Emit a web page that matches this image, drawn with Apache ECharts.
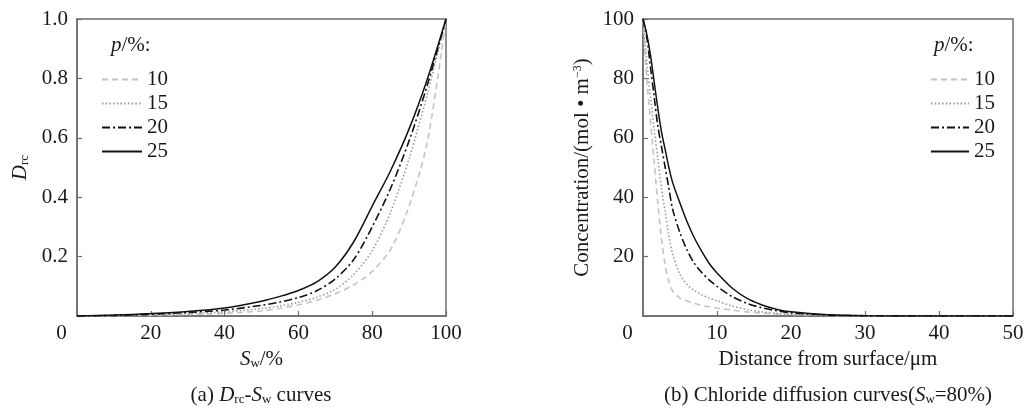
<!DOCTYPE html>
<html><head><meta charset="utf-8">
<script src="https://cdn.jsdelivr.net/npm/echarts@6/dist/echarts.min.js"></script>
<style>html,body{margin:0;padding:0;background:#fff}#c{width:1027px;height:412px}</style>
</head><body><div id="c"></div>
<script>
// ---- data ----
const swX = [0,10,20,30,40,50,55,60,65,70,75,80,85,90,95,100];
const drcP10 = [0,0.001,0.002,0.005,0.009,0.017,0.026,0.038,0.053,0.075,0.105,0.15,0.225,0.37,0.59,1.0];
const drcP15 = [0,0.001,0.004,0.008,0.014,0.025,0.034,0.046,0.063,0.09,0.14,0.22,0.35,0.53,0.75,1.0];
const drcP20 = [0,0.002,0.006,0.012,0.02,0.036,0.047,0.062,0.085,0.125,0.19,0.30,0.43,0.59,0.78,1.0];
const drcP25 = [0,0.003,0.008,0.015,0.027,0.05,0.066,0.086,0.115,0.165,0.25,0.37,0.49,0.63,0.80,1.0];

const distX = [0,0.5,1,1.5,2,2.5,3,3.5,4,5,6,7,8,9,10,12,14,16,18,20,25,30,40,50];
const concP10 = [100,80,66,52,38,26,17,11.5,8.5,6,5,4.2,3.5,3.1,2.7,2,1.4,1,0.7,0.5,0.2,0.05,0,0];
const concP15 = [100,86,74,63,53,43,35,27,21,14,10.5,8.5,7.1,6,5.1,3.4,2.2,1.4,0.9,0.6,0.2,0.05,0,0];
const concP20 = [100,94,84,74,64,57,50,43,36,28,22,17.5,14.5,12,10,6.6,4.3,2.8,1.8,1.1,0.3,0.1,0,0];
const concP25 = [100,95,88,79,70,62,56,50,45,38,31.5,26,21.5,17.5,14.5,9.5,6,3.8,2.3,1.4,0.4,0.1,0,0];

const pNames = ['10','15','20','25'];

// ---- styles ----
const FONT = 'Liberation Serif';
const FS = 21;
const styles = [
  {color:'#c4c4c4', type:[6,4], width:1.6},
  {color:'#9a9a9a', type:[1.5,2.2], width:1.6},
  {color:'#111', type:[8,3,2,3], width:1.6},
  {color:'#111', type:'solid', width:1.5}
];
const axisColor = '#6e6e6e';
const txt = '#1a1a1a';
const zip = (xs, ys) => xs.map((x,i)=>[x, ys[i]]);
const richBase = {
  i:{fontFamily:FONT, fontSize:FS, fontStyle:'italic', color:txt},
  s:{fontFamily:FONT, fontSize:13, color:txt, padding:[9,0,0,0]},
  sup:{fontFamily:FONT, fontSize:12, color:txt, padding:[0,0,9,0]},
  n:{fontFamily:FONT, fontSize:FS, color:txt}
};
const richFill = {
  i:{fontFamily:FONT, fontSize:FS, fontStyle:'italic', fill:txt},
  s:{fontFamily:FONT, fontSize:13, fill:txt, padding:[9,0,0,0]},
  n:{fontFamily:FONT, fontSize:FS, fill:txt}
};

function xAxisCfg(gi, max, interval, name){
  return {
    type:'value', gridIndex:gi, min:0, max:max, interval:interval,
    axisLine:{show:true, onZero:false, lineStyle:{color:axisColor, width:1.5}},
    axisTick:{show:true, inside:true, length:5, lineStyle:{color:axisColor, width:1.2}},
    splitLine:{show:false},
    axisLabel:{color:txt, fontFamily:FONT, fontSize:FS, margin:7,
      formatter:v => v===0 ? '{z|0}' : String(v),
      rich:{z:{fontFamily:FONT, fontSize:FS, color:txt, padding:[0,31,0,0]}}},
    name:name, nameLocation:'middle', nameGap:29,
    nameTextStyle:{color:txt, fontFamily:FONT, fontSize:FS, rich:richBase}
  };
}
function yAxisCfg(gi, max, interval, fmt, name, gap){
  return {
    type:'value', gridIndex:gi, min:0, max:max, interval:interval,
    axisLine:{show:true, lineStyle:{color:axisColor, width:1.5}},
    axisTick:{show:true, inside:true, length:5, lineStyle:{color:axisColor, width:1.2}},
    splitLine:{show:false},
    axisLabel:{color:txt, fontFamily:FONT, fontSize:FS, margin:9,
      formatter:v => v===0 ? '' : fmt(v)},
    name:name, nameLocation:'middle', nameGap:gap, nameRotate:90,
    nameTextStyle:{color:txt, fontFamily:FONT, fontSize:FS, rich:richBase}
  };
}
function mkSeries(gi, xs, ysArr){
  return ysArr.map((ys,k)=>({
    type:'line', name:pNames[k], xAxisIndex:gi, yAxisIndex:gi,
    data:zip(xs, ys), showSymbol:false, symbol:'none', smooth:0.3,
    lineStyle:{color:styles[k].color, type:styles[k].type, width:styles[k].width},
    itemStyle:{color:styles[k].color}, z:2+k
  }));
}
function legendCfg(left, w){
  return {
    orient:'vertical', left:left, top:64, itemWidth:w, itemHeight:12, itemGap:3,
    selectedMode:false,
    itemStyle:{opacity:0, borderWidth:0},
    lineStyle:{opacity:1},
    textStyle:{fontFamily:FONT, fontSize:FS, color:txt, lineHeight:20},
    data:pNames
  };
}

const chart = echarts.init(document.getElementById('c'), null, {renderer:'canvas'});
const option = {
  animation:false,
  grid:[
    {left:77, right:581, top:19, bottom:96, show:true, borderColor:axisColor, borderWidth:1.5},
    {left:643, right:14, top:19, bottom:96, show:true, borderColor:axisColor, borderWidth:1.5}
  ],
  xAxis:[
    xAxisCfg(0, 100, 20, '{i|S}{s|w}{n|/%}'),
    xAxisCfg(1, 50, 10, 'Distance from surface/μm')
  ],
  yAxis:[
    yAxisCfg(0, 1, 0.2, v=>v.toFixed(1), '{i|D}{s|rc}', 46),
    yAxisCfg(1, 100, 20, v=>String(v), '{n|Concentration/(mol • m}{sup|−3}{n|)}', 50)
  ],
  legend:[ legendCfg(96, 40), legendCfg(925, 38) ],
  series:[
    ...mkSeries(0, swX, [drcP10, drcP15, drcP20, drcP25]),
    ...mkSeries(1, distX, [concP10, concP15, concP20, concP25])
  ],
  graphic:[
    {type:'text', left:111, top:35, style:{text:'{i|p}{n|/%:}', rich:richFill}},
    {type:'text', left:934, top:35, style:{text:'{i|p}{n|/%:}', rich:richFill}},
    {type:'text', x:261, y:395, style:{text:'{n|(a) }{i|D}{s|rc}{n|-}{i|S}{s|w}{n| curves}',
      align:'center', verticalAlign:'middle', rich:richFill}},
    {type:'text', x:828, y:395, style:{text:'{n|(b) Chloride diffusion curves(}{i|S}{s|w}{n|=80%)}',
      align:'center', verticalAlign:'middle', rich:richFill}}
  ]
};
chart.setOption(option);
</script></body></html>
